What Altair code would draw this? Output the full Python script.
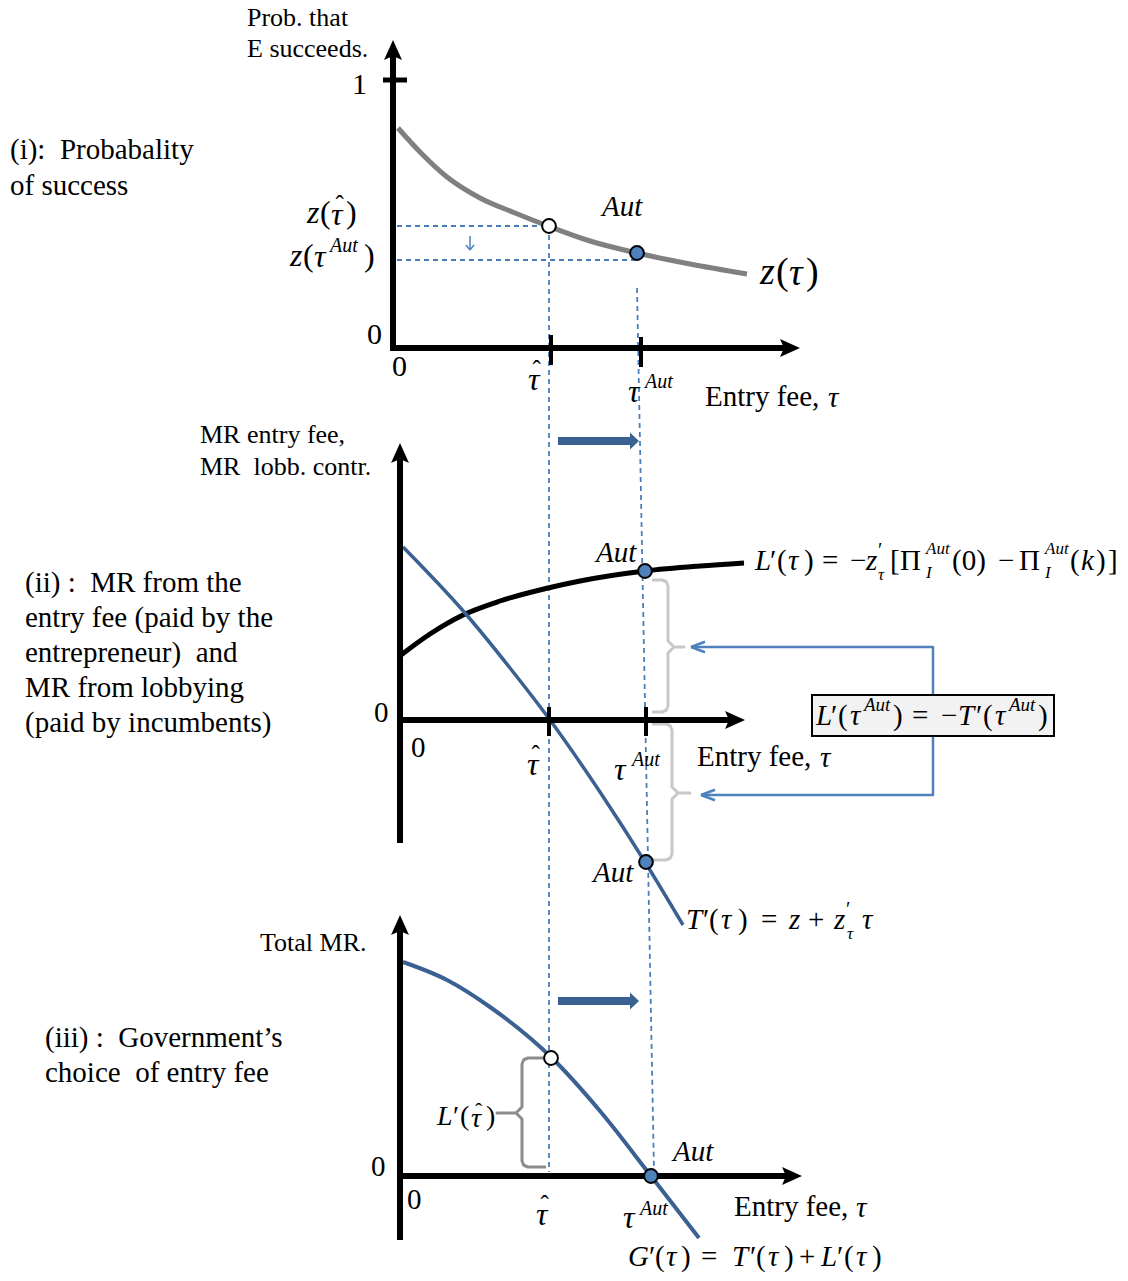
import math
import altair as alt
import pandas as pd

W, H = 1128, 1281
SERIF = "Liberation Serif"
DASH_BLUE = "#4a7ebb"
CURVE_BLUE = "#3a6192"
DOT_BLUE = "#4f81bd"

# ---------------------------------------------------------------
# Curves, in page units (x to the right, y downwards)
# ---------------------------------------------------------------
# (i) probability of success z(tau)
z_tau = [398, 420, 447, 480, 515, 548, 590, 637, 690, 747]
z_val = [128, 152, 177, 198, 213, 226, 241, 253, 264, 274]

# (ii) marginal revenue from lobbying L'(tau)
lobby_tau = [401, 430, 463, 500, 548, 580, 645, 700, 744]
lobby_val = [655, 634, 615, 601, 588, 581, 571, 566, 563]

# (ii) marginal revenue from the entry fee T'(tau)
fee_tau = [403, 465, 510, 550, 600, 645, 683]
fee_val = [547, 613, 668, 720, 792, 862, 925]

# (iii) total marginal revenue G'(tau)
total_tau = [403, 447, 490, 552, 600, 651, 699]
total_val = [962, 980, 1007, 1058, 1111, 1176, 1238]

# marked points: tau-hat (open) and the autocratic choice (filled)
hat_pt_x = [549, 551]
hat_pt_y = [226, 1058]
aut_pt_x = [637, 645, 646, 651]
aut_pt_y = [253, 571, 862, 1176]

# ---------------------------------------------------------------
# Axes, ticks and guide lines
# ---------------------------------------------------------------
axis_segments = [
    # panel (i)
    (393, 351, 393, 56, 6), (390, 348, 786, 348, 6), (383, 80, 407, 80, 5),
    (551, 335, 551, 365, 4), (641, 337, 641, 367, 4),
    # panel (ii)
    (400, 843, 400, 459, 6), (397, 720, 731, 720, 6),
    (549, 707, 549, 736, 4), (646, 707, 646, 736, 4),
    # panel (iii)
    (400, 1240, 400, 931, 6), (397, 1176, 788, 1176, 6),
]
up_heads = [(393, 50), (400, 453), (400, 925)]
right_heads = [(790, 348), (735, 720), (792, 1176)]

dashed_segments = [
    (397, 226, 549, 226), (397, 260, 637, 260),
    (549, 226, 549, 1172), (637, 288, 654, 1172),
]

# thick shift arrows between tau-hat and tau-Aut
shift_shafts = [(558, 441, 631, 441), (558, 1001, 631, 1001)]
shift_heads = [(630, 441), (630, 1001)]

# connectors from the equality box to the two braces
connectors = [
    [(933, 695), (933, 647), (691, 647)],
    [(933, 735), (933, 795), (701, 795)],
]
connector_heads = [(698, 647), (708, 795)]

# braces: (arm x, spine x, tip x, top y, mid y, bottom y, colour)
braces = [
    (652, 668, 684, 580, 647, 712, "#c8c8c8"),
    (652, 672, 690, 724, 793, 860, "#c8c8c8"),
    (546, 522, 497, 1058, 1113, 1167, "#8c8c8c"),
]

# ---------------------------------------------------------------
# Text: (string, left x, centre y, size, italic)
# ---------------------------------------------------------------
texts = []


def put(s, x, y, size, italic=False, align="left"):
    texts.append({"t": s, "x": x, "y": y, "s": size,
                  "it": italic, "al": align})


def tau_hat(x, y, size=32):
    """Italic tau with a circumflex set just above it."""
    put("τ", x, y, size, True)
    put("ˆ", x + 0.27 * size, y - 0.3 * size, int(size * 0.8), False, "center")


# panel (i)
put("Prob. that", 247, 18, 26)
put("E succeeds.", 247, 49, 26)
put("1", 352, 85, 30)
put("(i):\u00a0 Probabality", 10, 150, 29)
put("of success", 10, 186, 29)
put("z", 307, 213, 32, True)
put("(", 320, 213, 32)
tau_hat(331, 215)
put(")", 346, 213, 32)
put("z", 290, 256, 32, True)
put("(", 303, 256, 32)
put("τ", 314, 257, 32, True)
put("Aut", 330, 246, 20, True)
put(")", 364, 256, 32)
put("Aut", 602, 207, 29, True)
put("z", 760, 273, 38, True)
put("(", 776, 273, 38)
put("τ", 789, 274, 38, True)
put(")", 806, 273, 38)
put("0", 367, 335, 30)
put("0", 392, 367, 30)
tau_hat(528, 380)
put("τ", 628, 392, 32, True)
put("Aut", 645, 382, 20, True)
put("Entry fee,", 705, 397, 29)
put("τ", 828, 398, 29, True)

# panel (ii)
put("MR entry fee,", 200, 435, 26)
put("MR\u00a0 lobb. contr.", 200, 467, 26)
for i, line in enumerate(["(ii) :\u00a0 MR from the",
                          "entry fee (paid by the",
                          "entrepreneur)\u00a0 and",
                          "MR from lobbying",
                          "(paid by incumbents)"]):
    put(line, 25, 583 + 35 * i, 29)
put("0", 374, 713, 29)
put("0", 411, 748, 29)
put("Aut", 596, 553, 29, True)
put("Aut", 593, 873, 29, True)
tau_hat(527, 765)
put("τ", 614, 770, 32, True)
put("Aut", 632, 760, 20, True)
put("Entry fee,", 697, 757, 29)
put("τ", 820, 758, 29, True)

# L'(tau) = -z'_tau [Pi_I^Aut(0) - Pi_I^Aut(k)]
for s, x, it in [("L", 755, True), ("′", 770, False), ("(", 777, False),
                 ("τ", 788, True), (")", 804, False), ("=", 822, False),
                 ("−", 850, False), ("z", 866, True), ("[", 890, False),
                 ("Π", 900, False), ("(0)", 952, False), ("−", 998, False),
                 ("Π", 1019, False), ("(", 1070, False), ("k", 1081, True),
                 (")", 1096, False), ("]", 1108, False)]:
    put(s, x, 561, 29, it)
put("′", 878, 551, 20)
put("τ", 878, 575, 17, True)
for x in (926, 1045):
    put("Aut", x, 549, 17, True)
    put("I", x, 573, 17, True)

# L'(tau^Aut) = -T'(tau^Aut)
for s, x, it in [("L", 816, True), ("′", 831, False), ("(", 838, False),
                 ("τ", 850, True), (")", 893, False), ("=", 912, False),
                 ("−", 941, False), ("T", 958, True), ("′", 976, False),
                 ("(", 983, False), ("τ", 995, True), (")", 1038, False)]:
    put(s, x, 716, 29, it)
put("Aut", 864, 705, 19, True)
put("Aut", 1009, 705, 19, True)

# T'(tau) = z + z'_tau tau
for s, x, it in [("T", 686, True), ("′", 703, False), ("(", 709, False),
                 ("τ", 721, True), (")", 738, False), ("=", 761, False),
                 ("z", 789, True), ("+", 808, False), ("z", 834, True),
                 ("τ", 862, True)]:
    put(s, x, 920, 29, it)
put("′", 846, 910, 20)
put("τ", 847, 934, 17, True)

# panel (iii)
put("Total MR.", 260, 943, 26)
put("(iii) :\u00a0 Government’s", 45, 1038, 29)
put("choice\u00a0 of entry fee", 45, 1073, 29)
put("0", 371, 1167, 29)
put("0", 407, 1200, 29)
put("L", 437, 1117, 28, True)
put("′", 453, 1117, 28)
put("(", 460, 1117, 28)
tau_hat(471, 1119, 28)
put(")", 486, 1117, 28)
put("Aut", 673, 1152, 29, True)
tau_hat(536, 1215)
put("τ", 623, 1218, 32, True)
put("Aut", 640, 1209, 20, True)
put("Entry fee,", 734, 1207, 29)
put("τ", 856, 1208, 29, True)

# G'(tau) = T'(tau) + L'(tau)
for s, x, it in [("G", 628, True), ("′", 649, False), ("(", 655, False),
                 ("τ", 666, True), (")", 681, False), ("=", 701, False),
                 ("T", 732, True), ("′", 750, False), ("(", 756, False),
                 ("τ", 768, True), (")", 784, False), ("+", 799, False),
                 ("L", 821, True), ("′", 837, False), ("(", 844, False),
                 ("τ", 856, True), (")", 872, False)]:
    put(s, x, 1257, 29, it)

# ---------------------------------------------------------------
# Chart building
# ---------------------------------------------------------------
XS = alt.Scale(domain=[0, W], nice=False, zero=False)
YS = alt.Scale(domain=[0, H], nice=False, zero=False, reverse=True)


def X(f="x"):
    return alt.X(f"{f}:Q", scale=XS, axis=None)


def Y(f="y"):
    return alt.Y(f"{f}:Q", scale=YS, axis=None)


def path_df(points):
    return pd.DataFrame([{"x": p[0], "y": p[1], "i": k}
                         for k, p in enumerate(points)])


def curve(xs, ys, color, width, interp="monotone"):
    return alt.Chart(path_df(list(zip(xs, ys)))).mark_line(
        color=color, strokeWidth=width, interpolate=interp,
        strokeCap="butt", strokeJoin="round"
    ).encode(x=X(), y=Y(), order="i:Q")


def brace_points(xa, xs_, xt, yt, ym, yb, r=6):
    d = 1 if xt > xs_ else -1
    c = math.cos(math.pi / 4)
    return [
        (xa, yt),
        (xs_ - d * r, yt), (xs_ - d * r + d * r * c, yt + r - r * c), (xs_, yt + r),
        (xs_, ym - r), (xs_ + d * (r - r * c), ym - r * c), (xs_ + d * r, ym),
        (xt, ym),
        (xs_ + d * r, ym), (xs_ + d * (r - r * c), ym + r * c), (xs_, ym + r),
        (xs_, yb - r), (xs_ - d * r + d * r * c, yb - r + r * c), (xs_ - d * r, yb),
        (xa, yb),
    ]


layers = []

# dashed guides
dash_df = pd.DataFrame(dashed_segments, columns=["x", "y", "x2", "y2"])
layers.append(alt.Chart(dash_df).mark_rule(
    color=DASH_BLUE, strokeWidth=1.8, strokeDash=[5, 4]
).encode(x=X(), y=Y(), x2="x2:Q", y2="y2:Q"))

# small downward shift arrow in panel (i)
layers.append(alt.Chart(pd.DataFrame([{"x": 470, "y": 236, "x2": 470, "y2": 250}]))
              .mark_rule(color=DOT_BLUE, strokeWidth=1.5)
              .encode(x=X(), y=Y(), x2="x2:Q", y2="y2:Q"))
layers.append(alt.Chart(pd.DataFrame([{"x": 470, "y": 245}])).mark_point(
    shape="M0,1L-0.8,0M0,1L0.8,0", size=100, filled=False,
    stroke=DOT_BLUE, strokeWidth=1.5, opacity=1
).encode(x=X(), y=Y()))

# braces
for xa, xsp, xt, yt, ym, yb, col in braces:
    pts = brace_points(xa, xsp, xt, yt, ym, yb)
    layers.append(curve([p[0] for p in pts], [p[1] for p in pts],
                        col, 3, "linear"))

# connectors from the box
for pts in connectors:
    layers.append(curve([p[0] for p in pts], [p[1] for p in pts],
                        DOT_BLUE, 2.5, "linear"))
layers.append(alt.Chart(pd.DataFrame(connector_heads, columns=["x", "y"])).mark_point(
    shape="M-1,0L1,-0.75M-1,0L1,0.75", size=196, filled=False,
    stroke=DOT_BLUE, strokeWidth=2.5, opacity=1
).encode(x=X(), y=Y()))

# curves
layers.append(curve(z_tau, z_val, "#808080", 5))
layers.append(curve(lobby_tau, lobby_val, "black", 5))
layers.append(curve(fee_tau, fee_val, CURVE_BLUE, 3.5))
layers.append(curve(total_tau, total_val, CURVE_BLUE, 4))

# axes and ticks
axis_df = pd.DataFrame(axis_segments, columns=["x", "y", "x2", "y2", "w"])
layers.append(alt.Chart(axis_df).mark_rule(color="black", strokeCap="butt").encode(
    x=X(), y=Y(), x2="x2:Q", y2="y2:Q",
    strokeWidth=alt.StrokeWidth("w:Q", scale=None)))
layers.append(alt.Chart(pd.DataFrame(up_heads, columns=["x", "y"])).mark_point(
    shape="M0,-1L0.9,1L0,0.6L-0.9,1Z", size=400, filled=True,
    color="black", opacity=1
).encode(x=X(), y=Y()))
layers.append(alt.Chart(pd.DataFrame(right_heads, columns=["x", "y"])).mark_point(
    shape="M1,0L-1,0.9L-0.6,0L-1,-0.9Z", size=400, filled=True,
    color="black", opacity=1
).encode(x=X(), y=Y()))

# shift arrows
shaft_df = pd.DataFrame(shift_shafts, columns=["x", "y", "x2", "y2"])
layers.append(alt.Chart(shaft_df).mark_rule(color=CURVE_BLUE, strokeWidth=8)
              .encode(x=X(), y=Y(), x2="x2:Q", y2="y2:Q"))
layers.append(alt.Chart(pd.DataFrame(shift_heads, columns=["x", "y"])).mark_point(
    shape="M1,0L0,-0.95L0,0.95Z", size=324, filled=True,
    color=CURVE_BLUE, opacity=1
).encode(x=X(), y=Y()))

# equality box
layers.append(alt.Chart(pd.DataFrame([{"x": 812, "y": 695, "x2": 1054, "y2": 736}]))
              .mark_rect(fill="#f2f2f2", stroke="black", strokeWidth=2)
              .encode(x=X(), y=Y(), x2="x2:Q", y2="y2:Q"))

# marked points
pts_df = pd.DataFrame(
    [{"x": a, "y": b, "f": "white"} for a, b in zip(hat_pt_x, hat_pt_y)]
    + [{"x": a, "y": b, "f": DOT_BLUE} for a, b in zip(aut_pt_x, aut_pt_y)])
layers.append(alt.Chart(pts_df).mark_point(
    shape="circle", size=190, filled=True, stroke="black",
    strokeWidth=2, opacity=1
).encode(x=X(), y=Y(), fill=alt.Fill("f:N", scale=None)))

# text
text_df = pd.DataFrame(texts)
for (it, al), grp in text_df.groupby(["it", "al"]):
    layers.append(alt.Chart(grp.reset_index(drop=True)).mark_text(
        font=SERIF, fontStyle="italic" if it else "normal",
        align=al, baseline="middle", color="black"
    ).encode(x=X(), y=Y(), text="t:N",
             size=alt.Size("s:Q", scale=None)))

chart = alt.layer(*layers).properties(
    width=W, height=H, padding=0, autosize=alt.AutoSizeParams(type="none"),
    background="white"
).configure_view(strokeWidth=0)

chart.save("out.html", embed_options={"renderer": "svg", "actions": False})
